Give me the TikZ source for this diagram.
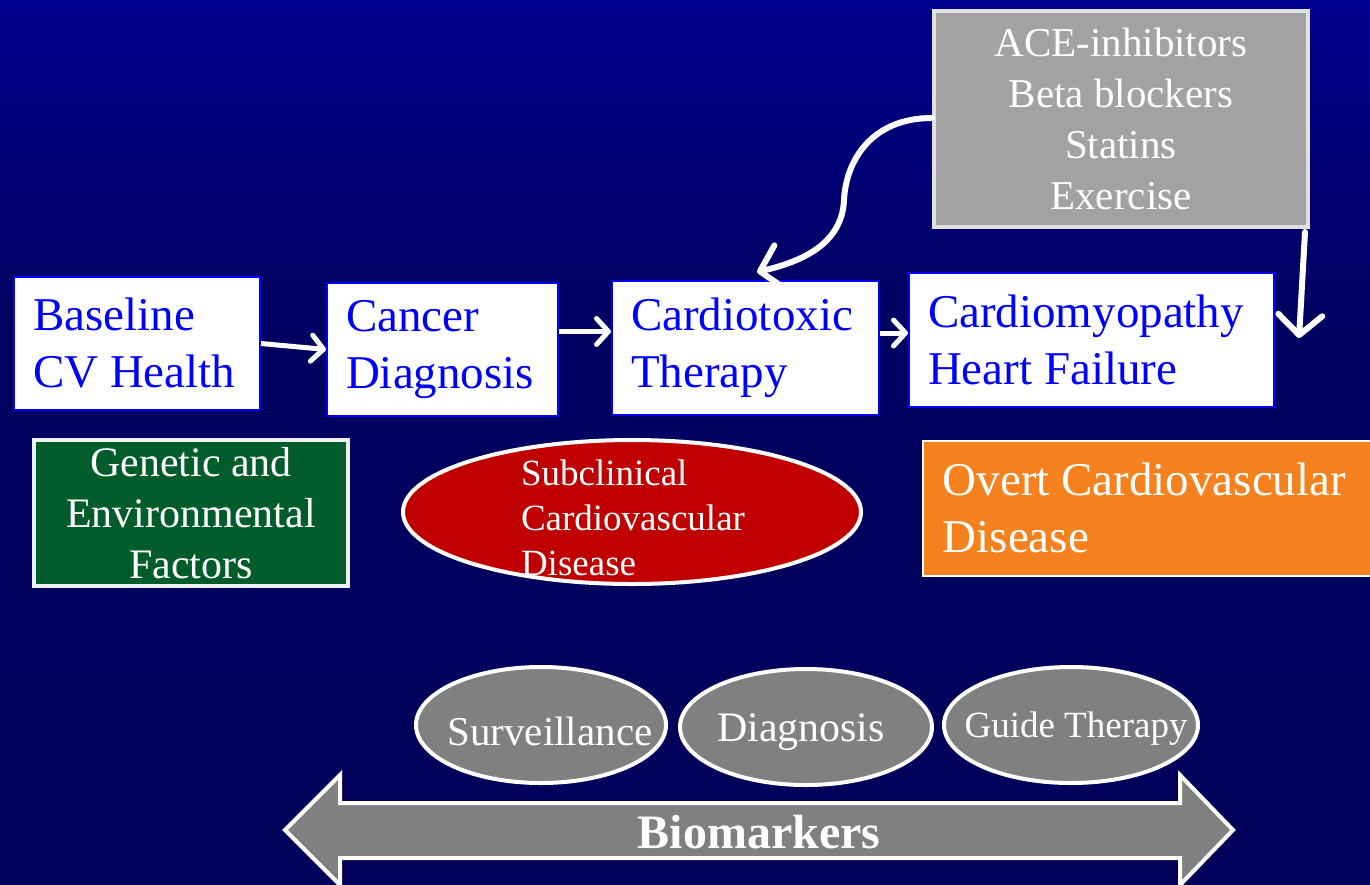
\documentclass[tikz,border=0pt]{standalone}
\usepackage{fontspec}
\setmainfont{Liberation Serif}
\usetikzlibrary{arrows.meta,shapes.geometric,calc}
\newcommand\wsp{\hspace{0.25em}}
\definecolor{bgtop}{RGB}{0,0,142}
\definecolor{bgmid}{RGB}{0,0,98}
\definecolor{bgbot}{RGB}{0,0,88}
\definecolor{txtblue}{RGB}{0,0,255}
\definecolor{boxgray}{RGB}{162,162,162}
\definecolor{boxgrayedge}{RGB}{225,225,225}
\definecolor{darkgreen}{RGB}{0,92,42}
\definecolor{darkred}{RGB}{192,0,0}
\definecolor{orangebox}{RGB}{245,130,31}
\definecolor{midgray}{RGB}{128,128,128}
\tikzset{
  stepbox/.style={draw=txtblue, line width=2pt, fill=white, rectangle, anchor=north west,
    text=txtblue, align=left, inner xsep=19pt, inner ysep=0pt,
    font=\fontsize{47}{57}\selectfont},
  arr/.style={draw=white, line width=5pt, -{Straight Barb[length=12pt,width=26pt,line cap=round,line join=round]}},
  bigarr/.style={draw=white, line width=6pt, line cap=round, -{Straight Barb[length=20pt,width=44pt,line cap=round,line join=round]}},
  bio/.style={ellipse, draw=white, line width=4pt, fill=midgray, inner sep=0pt},
  biotext/.style={text=white, inner sep=0pt},
}
\begin{document}
\begin{tikzpicture}[x=1pt,y=-1pt]
\useasboundingbox (0,0) rectangle (1370,884);
% background
\shade[top color=bgtop, bottom color=bgmid] (0,0) rectangle (1370,300);
\shade[top color=bgmid, bottom color=bgbot] (0,299.5) rectangle (1370,884);

% main step boxes
\node[stepbox, minimum width=246pt, minimum height=133pt, text width=208pt] (base) at (13,276) {Baseline\\CV\wsp Health};
\node[stepbox, minimum width=231pt, minimum height=133pt, text width=193pt] (cancer) at (326,282) {Cancer\\Diagnosis};
\node[stepbox, minimum width=267pt, minimum height=134pt, text width=229pt] (tox) at (611,280) {Cardiotoxic\\Therapy};
\node[stepbox, minimum width=365pt, minimum height=134pt, text width=327pt] (cm) at (908,272) {Cardiomyopathy\\Heart\wsp Failure};

% therapy box
\node[draw=boxgrayedge, line width=4pt, fill=boxgray, anchor=north west, minimum width=374pt, minimum height=216pt,
  text=white, align=center, inner sep=0pt, font=\fontsize{41}{51}\selectfont] (ther) at (932,9)
  {ACE-inhibitors\\Beta\wsp blockers\\Statins\\Exercise};

% genetic box
\node[draw=white!94!black, line width=4pt, fill=darkgreen, anchor=north west, minimum width=314pt, minimum height=146pt,
  text=white, align=center, inner sep=0pt, font=\fontsize{42}{51}\selectfont] (gen) at (32,438)
  {Genetic\wsp and\\Environmental\\Factors};

% subclinical ellipse
\node[ellipse, draw=white, line width=4pt, fill=darkred, minimum width=458pt, minimum height=144pt, inner sep=0pt] (sub) at (632,512) {};
\node[text=white, align=left, inner sep=0pt, font=\fontsize{37}{45}\selectfont] (subtxt) at (633,518)
  {Subclinical\\Cardiovascular\\Disease};

% overt box
\node[draw=white, line width=1.5pt, fill=orangebox, anchor=north west, minimum width=460pt, minimum height=135pt,
  text=white, align=left, inner xsep=20pt, inner ysep=0pt, text width=420pt, font=\fontsize{47}{57}\selectfont] (overt) at (922,440)
  {Overt\wsp Cardiovascular\\Disease};

% arrows between steps
\draw[arr] (base.east) -- (cancer.west);
\draw[arr] ([yshift=18pt]cancer.east) -- ([yshift=18pt]cancer.east -| tox.west);
\draw[arr] ([yshift=15pt]tox.east) -- ([yshift=15pt]tox.east -| cm.west);

% curved arrow from therapy box to cardiotoxic therapy
\coordinate (cstart) at (ther.west |- 0,118);
\coordinate (cend) at (757,272);
\draw[bigarr] (cstart) .. controls (872,118) and (846,160) .. (844,200)
  .. controls (842,245) and (800,262) .. (cend);

% straight arrow downward
\coordinate (dstart) at (1305,232);
\coordinate (dend) at (1299,338);
\draw[bigarr] (dstart) -- (dend);

% biomarker ellipses
\node[bio, minimum width=250pt, minimum height=116pt] (surv) at (541,725) {};
\node[biotext, font=\fontsize{41}{49}\selectfont] (survtxt) at (550,731) {Surveillance};
\node[bio, minimum width=252pt, minimum height=116pt] (diag) at (806,727) {};
\node[biotext, font=\fontsize{42}{50}\selectfont] (diagtxt) at (801,732) {Diagnosis};
\node[bio, minimum width=254pt, minimum height=116pt] (guide) at (1071,725) {};
\node[biotext, font=\fontsize{37}{45}\selectfont] (guidetxt) at (1076,729) {Guide\wsp Therapy};

% big double arrow
\draw[draw=white, line width=4pt, fill=midgray, line join=miter]
  (285,830) -- (340,775) -- (340,803) -- (1180,803) -- (1180,775) -- (1233,830)
  -- (1180,885) -- (1180,858) -- (340,858) -- (340,885) -- cycle;
\node[text=white, inner sep=0pt, font=\fontsize{48}{56}\selectfont\bfseries] (biom) at (759,832) {Biomarkers};
\end{tikzpicture}
\end{document}
